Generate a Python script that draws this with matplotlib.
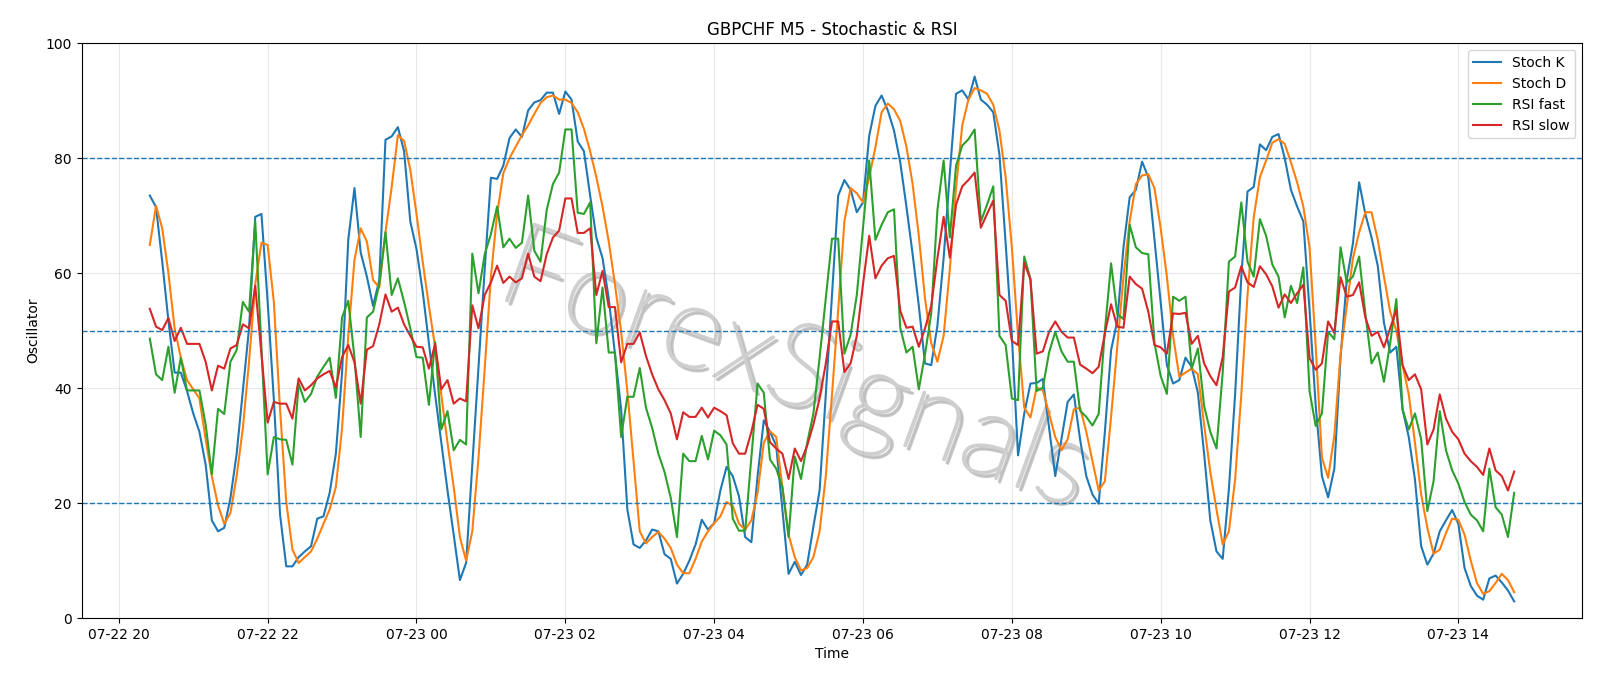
import pandas as pd
import matplotlib
matplotlib.use("Agg")
import matplotlib.pyplot as plt
import matplotlib.dates as mdates
import matplotlib.patheffects as pe

# 5-minute bars, 07-22 20:25 -> 07-23 14:45
times = pd.date_range("2025-07-22 20:25", periods=221, freq="5min")

stoch_k = [
    73.5, 71.5, 62, 51.7, 42.7, 42.7, 39.5, 35.6, 32.4, 26.7,
    17, 15.1, 15.7, 20.9, 28.6, 39.5, 50.4, 69.8, 70.3, 55,
    38, 18, 9, 9, 10.6, 11.6, 12.5, 17.3, 17.7, 21.8,
    28.6, 42.7, 65.8, 74.8, 63.6, 59.4, 54.3, 58.8, 83.2, 83.8,
    85.4, 81.2, 69, 64.2, 56.8, 47.8, 38.9, 30.5, 22.2, 14.5,
    6.6, 9.6, 26.7, 44, 60.7, 76.6, 76.4, 78.7, 83.5, 85,
    83.7, 88.3, 89.7, 90.1, 91.4, 91.4, 87.7, 91.6, 90.2, 82.9,
    81.2, 73.5, 66.2, 62.6, 55.6, 45.9, 36.3, 18.9, 12.8, 12.2,
    13.5, 15.4, 15.1, 11.1, 10.3, 6, 7.7, 10, 12.8, 17.1,
    15.4, 16.5, 22.2, 26.3, 24.7, 21.2, 14.1, 13.2, 24.7, 34.4,
    32.4, 30, 18.9, 7.7, 9.8, 7.5, 9.3, 15.9, 22.2, 38.9,
    56.2, 73.5, 76.2, 74.5, 70.6, 72.3, 83.9, 89.1, 90.9, 88.3,
    84.8, 79.3, 71.6, 63.3, 54.3, 44.3, 44, 50.9, 62.6, 77.4,
    91.2, 91.8, 90.2, 94.2, 90.2, 89.3, 88, 80.6, 65.2, 49.1,
    28.3, 35.6, 40.8, 40.9, 41.6, 33.1, 24.7, 31.1, 37.6, 38.9,
    31.1, 24.7, 21.5, 19.9, 32.4, 46.6, 51.7, 64.5, 73.2, 74.5,
    79.4, 76.7, 65.8, 54.9, 44, 40.8, 41.4, 45.3, 43.7, 39.2,
    28.6, 17, 11.6, 10.3, 22.5, 38.9, 59.4, 74.2, 75, 82.4,
    81.4, 83.7, 84.2, 80, 74.5, 71.6, 69, 53.6, 36.9, 24.7,
    21, 26, 45.3, 58.8, 65.2, 75.8, 70.3, 66.2, 61.3, 51.4,
    46.2, 47.2, 36.3, 31.5, 24.1, 12.5, 9.3, 11.2, 15.1, 17,
    18.8, 16.4, 8.7, 5.6, 3.9, 3.2, 6.9, 7.4, 6.2, 4.8,
    2.9,
]

stoch_d = [
    64.9, 71.7, 67.8, 60, 50.4, 45.3, 41.4, 39.8, 38.2, 31.1,
    24.7, 19.6, 16.4, 18.3, 24.7, 33, 44.6, 58.1, 65.3, 64.9,
    55, 36.3, 20.2, 11.9, 9.6, 10.6, 11.6, 13.8, 16.4, 18.9,
    22.8, 33, 49.1, 62.3, 67.8, 65.5, 58.8, 57.5, 67.1, 75,
    84, 83, 78, 70.3, 62, 54.3, 47.2, 38.9, 30.5, 22.8,
    14.1, 10, 15.1, 27.9, 43.4, 59.4, 70.3, 77.4, 80, 82,
    84, 85.7, 87.7, 89.6, 90.6, 90.9, 90.2, 90.2, 89.6, 88,
    85.1, 81.2, 76.7, 71.6, 65.5, 58.1, 49.8, 39.5, 27.3, 15.1,
    13, 14.1, 15, 13.8, 12.2, 9.3, 7.8, 7.8, 10.3, 13.3,
    15.1, 16.5, 17.7, 20.2, 19.5, 16.4, 15.4, 17, 21.8, 30.5,
    32.5, 31.5, 22.8, 14.5, 10.6, 8.3, 8.7, 10.6, 15.1, 24.7,
    38.9, 53.6, 69, 74.8, 73.9, 72.3, 76.7, 81.9, 88, 89.5,
    88.5, 86.5, 82, 75.5, 66.5, 55.6, 47.8, 44.6, 49.1, 60.7,
    74.8, 85.7, 90.2, 92.2, 91.8, 91.2, 89.3, 84.8, 76.7, 64.5,
    49.1, 36.6, 34.9, 40.1, 39.6, 35.6, 31.5, 29.2, 31.1, 36.3,
    36.6, 32.4, 27.3, 22.2, 23.8, 35, 47.2, 59.4, 69, 75.5,
    77, 77.2, 74.8, 67.8, 59.4, 49.1, 42, 42.7, 43.4, 42.4,
    33.7, 25.4, 18.9, 12.8, 15.1, 24.1, 38.9, 56.2, 69.7, 76.7,
    79.6, 82.7, 83.3, 82.5, 79.3, 75.8, 71.6, 64.5, 47.2, 27.9,
    24.4, 31.8, 45.9, 54.3, 62.6, 67.1, 70.6, 70.6, 65.8, 59.4,
    53.3, 50, 44, 38.9, 30.5, 21.5, 15.7, 11.2, 11.9, 14.8,
    17.3, 17.1, 14.5, 10, 6.1, 4.2, 4.7, 6.1, 7.7, 6.6,
    4.5,
]

rsi_fast = [
    48.6, 42.4, 41.4, 47.2, 39.2, 45.3, 39.6, 39.6, 39.6, 33.7,
    25, 36.4, 35.5, 44.6, 46.6, 55, 53.3, 69, 47, 25,
    31.5, 31.1, 31, 26.7, 40.8, 37.6, 39, 42, 43.7, 45.3,
    38.3, 52.3, 55.2, 45.3, 31.5, 52.3, 53.3, 58.1, 67.1, 56.2,
    59.1, 55, 50.4, 45.4, 45.3, 37.1, 48, 32.8, 36, 29.2,
    31, 30.2, 63.4, 56.5, 63.3, 66.8, 71.6, 64.5, 66, 64.4,
    65.3, 73.5, 63.9, 62, 71, 75.5, 77.5, 85, 85, 70.5,
    70.3, 72.3, 47.8, 57.5, 46.2, 46.2, 31.5, 38.5, 38.5, 43.5,
    36.6, 33.1, 28.6, 25.4, 20.9, 14.1, 28.6, 27.3, 27.3, 31.7,
    27.6, 32.6, 31.8, 30.2, 17.3, 15.2, 15.2, 27.9, 40.8, 39.2,
    27.6, 26, 22.8, 14.1, 28.1, 24.2, 30.5, 35.6, 45.3, 55.6,
    66, 66, 46, 49.3, 56.2, 67.8, 79.6, 65.8, 68.4, 70.6,
    71.1, 50.5, 46.2, 47.2, 39.8, 45.9, 53, 71, 79.6, 66.2,
    78.7, 82.2, 83.3, 85, 69, 71.9, 75.1, 49.1, 47.5, 38.2,
    37.9, 62.9, 59, 39.5, 40.1, 46.2, 49.8, 46.4, 44.6, 44.6,
    36.1, 35, 33.5, 35.5, 50, 61.7, 52.9, 52, 68.4, 64.5,
    63.5, 63.3, 47.8, 42.1, 39, 55.9, 55.2, 55.9, 43.4, 46.9,
    36.9, 32.4, 29.5, 42.7, 62, 62.9, 72.3, 62, 59.4, 69.4,
    66.5, 61.5, 59.4, 52.3, 57.8, 54.8, 61, 39.5, 33.4, 35.6,
    49.8, 48.5, 64.5, 58.4, 59.4, 62.9, 53, 44.3, 46.2, 41.1,
    47.8, 55.5, 36.3, 32.8, 35.6, 31.1, 18.6, 23.8, 36, 29.2,
    25.7, 23.4, 20.2, 18, 17, 15.1, 26, 19.3, 18, 14.1,
    21.8,
]

rsi_slow = [
    53.8, 50.7, 50.1, 52.2, 48.2, 50.5, 47.7, 47.7, 47.7, 44.6,
    39.6, 43.9, 43.4, 46.9, 47.5, 51.1, 50.4, 57.8, 46, 34,
    37.6, 37.3, 37.3, 34.7, 41.7, 39.6, 40.5, 41.7, 42.4, 43,
    40.1, 45.4, 47.5, 44.5, 37.3, 46.7, 47.3, 51.1, 56.3, 53.3,
    54, 51.1, 49.1, 47.2, 47.1, 43.4, 47.7, 39.8, 41.4, 37.3,
    38.2, 37.7, 54.4, 50.4, 56.2, 58.4, 61.3, 58.3, 59.4, 58.4,
    59.1, 63.4, 59.4, 58.6, 63.3, 66.2, 67.4, 73, 73, 67,
    67, 67.8, 56.2, 60.4, 54.1, 54.1, 44.5, 47.7, 47.7, 49.7,
    45.6, 42.4, 39.8, 37.9, 35.6, 31.1, 35.8, 35, 35, 36.6,
    34.9, 36.6, 36, 35.3, 30.4, 28.6, 28.6, 32.4, 37.1, 36.4,
    30.6, 29.5, 28.6, 24.2, 29.5, 27.3, 30, 33.7, 38.2, 44.3,
    51.6, 51.6, 42.8, 44.3, 49.1, 58.1, 66.5, 59.1, 61.3, 62.6,
    63, 53.5, 50.5, 50.7, 47.2, 50.4, 54.3, 62.6, 69.8, 62.7,
    71.9, 75.1, 76.2, 77.5, 67.9, 70.3, 72.6, 56.2, 55.2, 48.2,
    47.5, 61.8, 58.9, 46, 46.4, 49.8, 51.6, 49.8, 48.8, 48.8,
    44.1, 43.4, 42.6, 43.7, 49.5, 54.6, 50.7, 50.5, 59.4, 58.1,
    57.3, 53.3, 47.5, 47.1, 46, 53, 52.9, 53.1, 47.7, 49.1,
    44.3, 42.1, 40.5, 45.4, 56.8, 57.5, 61.2, 58.4, 57.6, 61.2,
    59.8, 57.7, 54, 56.3, 54.8, 56.5, 58, 45.2, 43.2, 44.3,
    51.6, 49.6, 59.3, 55.9, 56.2, 58.4, 52.3, 49.1, 49.8, 47.1,
    50.4, 53.6, 44, 41.4, 42.4, 39.8, 30.2, 32.8, 38.9, 34.7,
    32.4, 31.1, 28.6, 27.3, 26.3, 24.9, 29.5, 25.7, 24.7, 22.2,
    25.5,
]

levels = [80, 50, 20]

fig, ax = plt.subplots(figsize=(16, 6.86), dpi=100)
fig.subplots_adjust(left=0.051, right=0.989, top=0.937, bottom=0.099)

ax.plot(times, stoch_k, label="Stoch K", lw=1.5)
ax.plot(times, stoch_d, label="Stoch D", lw=1.5)
ax.plot(times, rsi_fast, label="RSI fast", lw=1.5)
ax.plot(times, rsi_slow, label="RSI slow", lw=1.5)

for lv in levels:
    ax.axhline(lv, color="tab:blue", linestyle="--", lw=1)

ax.set_ylim(0, 100)
ax.xaxis.set_major_locator(mdates.HourLocator(byhour=range(0, 24, 2)))
ax.xaxis.set_major_formatter(mdates.DateFormatter("%m-%d %H"))
ax.grid(True, alpha=0.3)
ax.set_title("GBPCHF M5 - Stochastic & RSI")
ax.set_xlabel("Time")
ax.set_ylabel("Oscillator")
ax.legend(loc="upper right")

# watermark behind the lines: thin font thickened a little, plus a soft shadow
ax.text(0.475, 0.427, "ForexSignals", transform=ax.transAxes, fontsize=84,
        family=["Lato", "Open Sans", "DejaVu Sans"], fontweight="light",
        color="#cfcfcf", rotation=-20, ha="center", va="center", zorder=0,
        path_effects=[pe.Stroke(linewidth=1.8, foreground="#a5a5a5", alpha=0.6, offset=(2.5, -2.5)),
                      pe.Stroke(linewidth=1.8, foreground="#cfcfcf"),
                      pe.Normal()])

fig.savefig("out.png")
